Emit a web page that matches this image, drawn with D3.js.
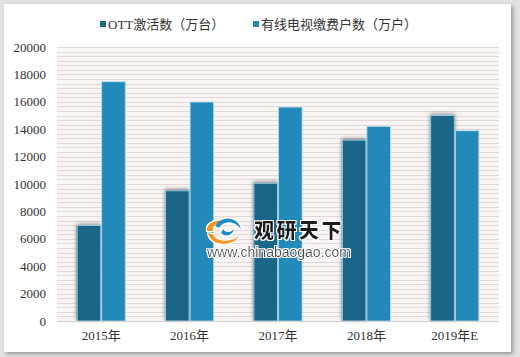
<!DOCTYPE html>
<html>
<head>
<meta charset="utf-8">
<script src="https://cdn.jsdelivr.net/npm/d3@7"></script>
<style>
html,body{margin:0;padding:0;background:#fff;}
svg{display:block;}
</style>
</head>
<body>
<div id="chart"></div>
<script>
const categories = ["2015年","2016年","2017年","2018年","2019年E"];
const seriesNames = ["OTT激活数（万台）","有线电视缴费户数（万户）"];
const ottValues = [7000, 9540, 10090, 13240, 15040];
const cableValues = [17500, 16020, 15650, 14240, 13920];
const yTicks = [0,2000,4000,6000,8000,10000,12000,14000,16000,18000,20000];
const colors = ["#1b6688","#2389b8"];

(function(){
const W = 520, H = 357;
const svg = d3.select("#chart").append("svg").attr("width", W).attr("height", H);
const defs = svg.append("defs");
const fs = defs.append("filter").attr("id","panelShadow").attr("x","-5%").attr("y","-5%").attr("width","110%").attr("height","110%");
fs.append("feDropShadow").attr("dx",2).attr("dy",2).attr("stdDeviation",2).attr("flood-color","#000").attr("flood-opacity",0.35);
const fb = defs.append("filter").attr("id","barShadow").attr("x","-50%").attr("y","-10%").attr("width","200%").attr("height","120%");
fb.append("feDropShadow").attr("dx",0).attr("dy",-1).attr("stdDeviation",2).attr("flood-color","#000").attr("flood-opacity",0.45);
const ft = defs.append("filter").attr("id","halo");
ft.append("feMorphology").attr("in","SourceAlpha").attr("operator","dilate").attr("radius",1.2).attr("result","d");
ft.append("feFlood").attr("flood-color","#fff");
ft.append("feComposite").attr("in2","d").attr("operator","in").attr("result","w");
const fm = ft.append("feMerge");
fm.append("feMergeNode").attr("in","w");
fm.append("feMergeNode").attr("in","SourceGraphic");

svg.append("rect").attr("width",W).attr("height",H).attr("fill","#e2e2e2");
svg.append("rect").attr("x",4).attr("y",4).attr("width",507).attr("height",348).attr("fill","#fff").attr("filter","url(#panelShadow)");

const pL = 57, pR = 499, pT = 47, pB = 321;
const x0 = d3.scaleBand().domain(categories).range([pL, pR]).padding(0);
const y = d3.scaleLinear().domain([0, 20000]).range([pB, pT]);

svg.append("rect").attr("x",pL).attr("y",pT).attr("width",pR-pL).attr("height",pB-pT).attr("fill","#f9f5f5");
const stripeVals = d3.range(0, 20000 + 1, 2000/6);
svg.append("g").selectAll("line").data(stripeVals).join("line")
  .attr("x1",pL).attr("x2",pR)
  .attr("y1",d=>Math.round(y(d))+0.5).attr("y2",d=>Math.round(y(d))+0.5)
  .attr("stroke","#e2d8d8").attr("stroke-width",1);

const yAxis = d3.axisLeft(y).tickValues(yTicks).tickSize(0).tickPadding(0).tickFormat(d3.format("d"));
const ya = svg.append("g").attr("transform",`translate(${pL-11},0)`).call(yAxis);
ya.select(".domain").remove();
ya.selectAll("text").attr("font-family","'Liberation Serif','Times New Roman',serif").attr("font-size",13).attr("fill","#333");

const xAxis = d3.axisBottom(x0).tickSize(0).tickPadding(0);
const xa = svg.append("g").attr("transform",`translate(0,${pB+10})`).call(xAxis);
xa.select(".domain").remove();
xa.selectAll("text").attr("font-family","'Liberation Serif','Noto Sans CJK SC',serif").attr("font-size",13).attr("fill","#333");

const groupW = x0.bandwidth()*0.556;
const x1 = d3.scaleBand().domain([0,1]).range([0, groupW]).padding(0);
const data = categories.map((c,i)=>({c, v:[ottValues[i], cableValues[i]]}));
const g = svg.append("g");
data.forEach(d=>{
  const gx = x0(d.c) + (x0.bandwidth()-groupW)/2;
  g.append("rect")
    .attr("x", gx + x1(0)).attr("y", y(d.v[0]))
    .attr("width", x1.bandwidth()).attr("height", y(0)-y(d.v[0]))
    .attr("fill", colors[0]).attr("filter","url(#barShadow)");
});
data.forEach(d=>{
  const gx = x0(d.c) + (x0.bandwidth()-groupW)/2;
  [0,1].forEach(k=>{
    g.append("rect")
      .attr("x", gx + x1(k)+0.5).attr("y", y(d.v[k])+0.5)
      .attr("width", x1.bandwidth()-1).attr("height", y(0)-y(d.v[k])-0.5)
      .attr("fill", colors[k]).attr("stroke","#b9dcee").attr("stroke-width",0.8);
  });
});

svg.append("line").attr("x1",pL).attr("x2",pR).attr("y1",pB+0.5).attr("y2",pB+0.5).attr("stroke","#d6cccc");

const legendX = [100, 253];
const lg = svg.append("g");
seriesNames.forEach((n,i)=>{
  lg.append("rect").attr("x",legendX[i]).attr("y",21).attr("width",6).attr("height",6).attr("fill",colors[i]);
  lg.append("text").attr("x",legendX[i]+8).attr("y",28.5).text(n)
    .attr("font-family","'Liberation Serif','Noto Sans CJK SC',serif").attr("font-size",13).attr("fill","#333");
});

const wm = svg.append("g").attr("filter","url(#halo)");
wm.append("path").attr("d","M208,233 C210,246 233,248 239,236 C232,242 216,243 213,234 Z").attr("fill","#f39a1e");
wm.append("path").attr("d","M207,231 C205,223 220,217 227,223 C220,221 212,224 213,231 Z").attr("fill","#f39a1e");
wm.append("path").attr("d","M215,226 C222,214 240,217 241,230 C236,221 224,220 219,228 Z").attr("fill","#1b8fc7");
wm.append("path").attr("d","M221,233 C226,238 233,235 234,229 C230,233 226,233 223,229 Z").attr("fill","#1b8fc7");
wm.append("text").attr("x",254).attr("y",238).text("观研天下")
  .attr("font-family","'Noto Sans CJK SC',sans-serif").attr("font-weight",900).attr("font-size",20).attr("fill","#1a1a1a").attr("letter-spacing",2.5);
wm.append("text").attr("x",207).attr("y",257).text("www.chinabaogao.com")
  .attr("font-family","'Liberation Sans',Arial,sans-serif").attr("font-size",14).attr("fill","#444");
})();
</script>
</body>
</html>
